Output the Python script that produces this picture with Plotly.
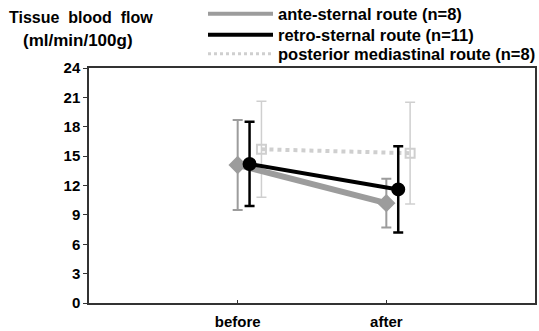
import plotly.graph_objects as go

categories = ["before", "after"]
x_pos = [1, 2]
series_names = ["ante-sternal route (n=8)", "retro-sternal route (n=11)", "posterior mediastinal route (n=8)"]
ante_mean = [14.1, 10.2]
ante_sd = [4.6, 2.5]
retro_mean = [14.2, 11.6]
retro_sd = [4.3, 4.4]
post_mean = [15.7, 15.3]
post_sd = [4.9, 5.2]
y_ticks = [0, 3, 6, 9, 12, 15, 18, 21, 24]

offsets = [0.0, 0.08, 0.16]
colors = ["#9c9c9c", "#000000", "#cfcfcf"]
widths = [6, 4, 4]
symbols = ["diamond", "circle", "square-open"]
msizes = [12, 12, 9]
eb_thick = [2, 2.5, 1.5]
means = [ante_mean, retro_mean, post_mean]
sds = [ante_sd, retro_sd, post_sd]
legend_ids = ["legend", "legend2", "legend3"]
legend_rows_px = [14, 35, 54]

fig = go.Figure()
order = [2, 0, 1]
for i in order:
    fig.add_trace(go.Scatter(
        x=[p + offsets[i] for p in x_pos], y=means[i], mode="lines+markers",
        line=dict(color=colors[i], width=widths[i], dash="dot" if i == 2 else "solid"),
        marker=dict(symbol=symbols[i], size=msizes[i], color=colors[i],
                    line=dict(color=colors[i], width=2)),
        error_y=dict(type="data", array=sds[i], visible=True, color=colors[i],
                     thickness=eb_thick[i], width=5),
        showlegend=False, cliponaxis=False))
for i in range(3):
    fig.add_trace(go.Scatter(
        x=[None], y=[None], mode="lines", name=series_names[i], legend=legend_ids[i],
        line=dict(color=colors[i], width=[4, 4, 3][i], dash="dot" if i == 2 else "solid")))

H = 331 - 68 - 28
W = 539 - 89 - 4
legend_common = dict(xanchor="left", yanchor="middle", bgcolor="rgba(0,0,0,0)",
                     font=dict(size=16.5, family="Liberation Sans, Arial, sans-serif", weight="bold"),
                     itemwidth=65, borderwidth=0)
layout_legends = {}
for i, lid in enumerate(legend_ids):
    layout_legends[lid] = dict(legend_common, x=(203 - 89) / W, y=1 + (68 - legend_rows_px[i]) / H)

fig.update_layout(
    width=539, height=331,
    margin=dict(l=89, r=4, t=68, b=28, autoexpand=False),
    paper_bgcolor="white", plot_bgcolor="white",
    font=dict(family="Liberation Sans, Arial, sans-serif", color="black", size=14),
    showlegend=True,
    **layout_legends,
    xaxis=dict(range=[0, 3], tickvals=x_pos, ticktext=categories, showgrid=False,
               zeroline=False, showline=True, linecolor="#333", linewidth=1.5, mirror=True,
               ticks="inside", ticklen=3, tickcolor="#333", ticklabelstandoff=4,
               tickfont=dict(size=15, weight="bold")),
    yaxis=dict(range=[0, 24], tickvals=y_ticks, showgrid=False, zeroline=False,
               showline=True, linecolor="#333", linewidth=1.5, mirror=True,
               ticks="outside", ticklen=4, tickcolor="#333",
               tickfont=dict(size=15, weight="bold")),
    annotations=[
        dict(text="<b>Tissue&nbsp;&nbsp;blood&nbsp;&nbsp;flow</b>", xref="paper", yref="paper",
             x=(7 - 89) / W, y=1 + (68 - 17) / H, xanchor="left", yanchor="middle", showarrow=False,
             font=dict(size=16)),
        dict(text="<b>(ml/min/100g)</b>", xref="paper", yref="paper",
             x=(21 - 89) / W, y=1 + (68 - 40) / H, xanchor="left", yanchor="middle", showarrow=False,
             font=dict(size=17)),
    ],
)
fig.write_html("out.html", config={"displayModeBar": False},
               post_script="document.body.style.margin='0';document.body.style.padding='0';")
